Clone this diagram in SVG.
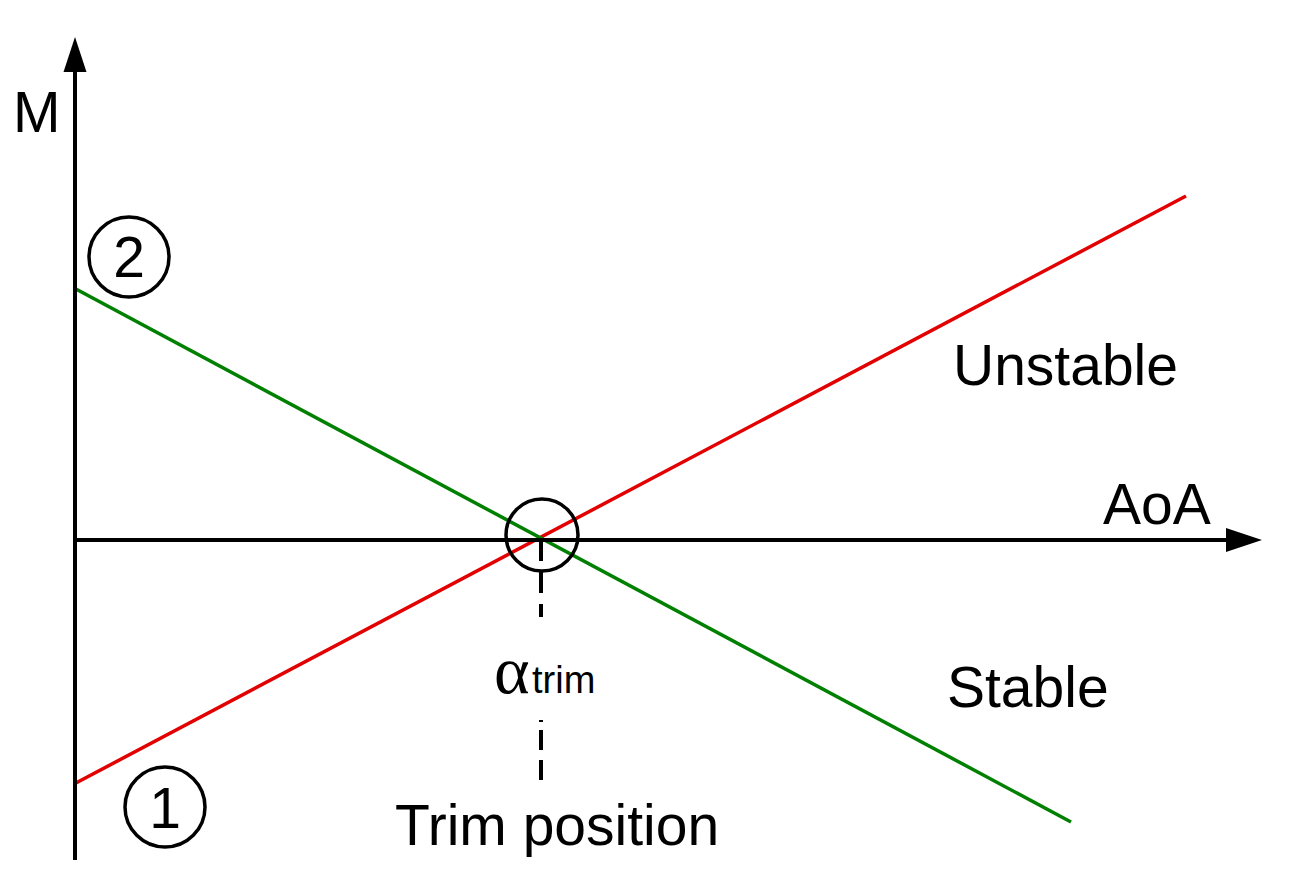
<svg xmlns="http://www.w3.org/2000/svg" width="1304" height="872" viewBox="0 0 1304 872">
<style>
.axis{stroke:#000;stroke-width:4;fill:none}
.dash{stroke:#000;stroke-width:4;fill:none}
.ring{stroke:#000;stroke-width:3.5;fill:none}
.lbl{font-family:"Liberation Sans",Arial,sans-serif;font-size:57px;fill:#000}
</style>
<rect width="1304" height="872" fill="#fff"/>
<g id="connectors">
<line id="red-line" x1="74" y1="784" x2="1186" y2="196" stroke="#e30000" stroke-width="3.5"/>
<line id="green-line" x1="74" y1="288" x2="1071" y2="822" stroke="#008000" stroke-width="3.5"/>
<line class="dash" x1="541" y1="540" x2="541" y2="617" stroke-dasharray="21 11"/>
<line class="dash" x1="541" y1="720" x2="541" y2="780" stroke-dasharray="2 8 20 10 20 10"/>
</g>
<g id="y-axis">
<line class="axis" x1="75" y1="860" x2="75" y2="70"/>
<polygon points="75,37 63.5,72 86.5,72" fill="#000"/>
<text class="lbl" x="13" y="132">M</text>
</g>
<g id="x-axis">
<line class="axis" x1="73" y1="540" x2="1228" y2="540"/>
<polygon points="1262,540 1226,528 1226,552" fill="#000"/>
<text class="lbl" x="1103" y="524">AoA</text>
</g>
<g id="trim-circle">
<circle class="ring" cx="542" cy="535" r="36"/>
</g>
<g id="alpha-trim">
<text x="494" y="693" font-family="'Liberation Serif','Times New Roman',serif" font-size="68" fill="#000">α<tspan x="532" font-family="'Liberation Sans',Arial,sans-serif" font-size="38">trim</tspan></text>
</g>
<g id="trim-position">
<text class="lbl" x="395" y="845">Trim position</text>
</g>
<g id="unstable">
<text class="lbl" x="953" y="385">Unstable</text>
</g>
<g id="stable">
<text class="lbl" x="947" y="707">Stable</text>
</g>
<g id="marker-2">
<circle class="ring" cx="129" cy="257" r="40"/>
<text class="lbl" x="129" y="277" text-anchor="middle">2</text>
</g>
<g id="marker-1">
<circle class="ring" cx="165" cy="807" r="40"/>
<text class="lbl" x="165" y="828" text-anchor="middle">1</text>
</g>
</svg>
